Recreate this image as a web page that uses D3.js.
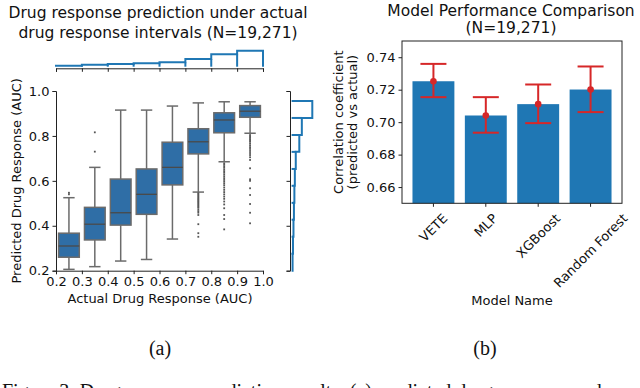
<!DOCTYPE html>
<html>
<head>
<meta charset="utf-8">
<script src="https://cdn.jsdelivr.net/npm/d3@7"></script>
<style>
  body { margin: 0; background: #fff; }
  svg { display: block; font-family: "DejaVu Sans", sans-serif; }
</style>
</head>
<body>
<svg id="chart" width="640" height="388"></svg>
<script>
// ---- panel (a): boxplots of predicted AUC per actual AUC interval ----
const binCenters = [0.25, 0.35, 0.45, 0.55, 0.65, 0.75, 0.85, 0.95];
const boxLow = [0.206, 0.218, 0.243, 0.25, 0.341, 0.55, 0.685, 0.812];
const boxQ1 = [0.26, 0.337, 0.403, 0.451, 0.582, 0.72, 0.814, 0.883];
const boxMed = [0.31, 0.407, 0.458, 0.54, 0.66, 0.774, 0.871, 0.91];
const boxQ3 = [0.367, 0.482, 0.608, 0.653, 0.772, 0.832, 0.903, 0.935];
const boxHigh = [0.525, 0.66, 0.915, 0.915, 0.933, 0.947, 0.952, 0.952];
const fliers = [
  [0.54, 0.547],
  [0.73, 0.816],
  [],
  [],
  [],
  [0.545, 0.54, 0.535, 0.53, 0.525, 0.52, 0.515, 0.51, 0.505, 0.5, 0.495, 0.49,
   0.485, 0.48, 0.472, 0.465, 0.458, 0.448, 0.407, 0.367, 0.351],
  [0.678, 0.672, 0.665, 0.658, 0.65, 0.643, 0.636, 0.628, 0.62, 0.612, 0.604,
   0.596, 0.588, 0.58, 0.57, 0.56, 0.55, 0.54, 0.53, 0.52, 0.508, 0.495, 0.478,
   0.448, 0.43, 0.384],
  [0.804, 0.798, 0.792, 0.786, 0.78, 0.774, 0.766, 0.758, 0.75, 0.742, 0.733,
   0.724, 0.715, 0.705, 0.693, 0.656, 0.607, 0.6, 0.567, 0.537, 0.497, 0.458, 0.411]
];

// marginal histogram of actual AUC (top)
const actualEdges = [0.2, 0.3, 0.4, 0.5, 0.6, 0.7, 0.8, 0.9, 1.0];
const actualCounts = [400, 780, 1050, 1320, 1700, 3000, 4800, 6221];
// marginal histogram of predicted AUC (right)
const predEdges = [0.2, 0.276, 0.351, 0.427, 0.502, 0.578, 0.653, 0.729, 0.804, 0.88, 0.955];
const predCounts = [341, 480, 650, 810, 970, 1130, 1450, 2680, 3560, 7200];

const aTicks = [0.2, 0.3, 0.4, 0.5, 0.6, 0.7, 0.8, 0.9, 1.0];
const aYTicks = [0.2, 0.4, 0.6, 0.8, 1.0];

// ---- panel (b): model comparison ----
const models = ["VETE", "MLP", "XGBoost", "Random Forest"];
const corr = [0.7252, 0.7041, 0.7111, 0.7201];
const corrLow = [0.7154, 0.6935, 0.6994, 0.7062];
const corrHigh = [0.7359, 0.7154, 0.7232, 0.7343];
const bYTicks = [0.66, 0.68, 0.70, 0.72, 0.74];

const blue = "#1f77b4";
const red = "#d62728";
const boxFill = "#2f6ea6";
const boxEdge = "#6b6b6b";
const axisColor = "#222";

const svg = d3.select("#chart");

function styleAxis(g) {
  g.selectAll("path.domain").attr("stroke", axisColor).attr("stroke-width", 1);
  g.selectAll(".tick line").attr("stroke", axisColor).attr("stroke-width", 1);
  g.selectAll(".tick text").attr("fill", "#111").attr("font-size", 13)
    .attr("font-family", "DejaVu Sans");
}

// ========== panel (a) ==========
const ax = { left: 56, right: 263, top: 91, bottom: 270.7 };
const x = d3.scaleLinear().domain([0.2, 1.0]).range([ax.left, ax.right]);
const y = d3.scaleLinear().domain([0.2, 1.0]).range([ax.bottom, ax.top]);

const ga = svg.append("g");

ga.append("text")
  .attr("x", 158).attr("text-anchor", "middle").attr("font-size", 15.5).attr("fill", "#111")
  .selectAll("tspan")
  .data(["Drug response prediction under actual", "drug response intervals (N=19,271)"])
  .join("tspan")
  .attr("x", 158)
  .attr("y", (d, i) => 18 + i * 20)
  .text((d) => d);

ga.append("g")
  .attr("transform", `translate(0,${ax.bottom})`)
  .call(d3.axisBottom(x).tickValues(aTicks).tickFormat(d3.format(".1f")).tickSizeOuter(0).tickSize(3.5).tickPadding(3))
  .call(styleAxis);

ga.append("g")
  .attr("transform", `translate(${ax.left},0)`)
  .call(d3.axisLeft(y).tickValues(aYTicks).tickFormat(d3.format(".1f")).tickSizeOuter(0).tickSize(3.5).tickPadding(3))
  .call(styleAxis);

ga.append("text")
  .attr("x", 160).attr("y", 303).attr("text-anchor", "middle")
  .attr("font-size", 13).attr("fill", "#111")
  .text("Actual Drug Response (AUC)");

ga.append("text")
  .attr("transform", `translate(21,${(ax.top + ax.bottom) / 2}) rotate(-90)`)
  .attr("text-anchor", "middle").attr("font-size", 13).attr("fill", "#111")
  .text("Predicted Drug Response (AUC)");

const boxW = (x(0.3) - x(0.2)) * 0.8;
const capW = boxW * 0.55;

const boxes = ga.append("g").selectAll("g")
  .data(binCenters.map((c, i) => ({
    c, lo: boxLow[i], q1: boxQ1[i], med: boxMed[i], q3: boxQ3[i], hi: boxHigh[i], fl: fliers[i]
  })))
  .join("g");

boxes.append("line")
  .attr("x1", (d) => x(d.c)).attr("x2", (d) => x(d.c))
  .attr("y1", (d) => y(d.lo)).attr("y2", (d) => y(d.q1))
  .attr("stroke", boxEdge).attr("stroke-width", 1.5);
boxes.append("line")
  .attr("x1", (d) => x(d.c)).attr("x2", (d) => x(d.c))
  .attr("y1", (d) => y(d.q3)).attr("y2", (d) => y(d.hi))
  .attr("stroke", boxEdge).attr("stroke-width", 1.5);
boxes.append("line")
  .attr("x1", (d) => x(d.c) - capW / 2).attr("x2", (d) => x(d.c) + capW / 2)
  .attr("y1", (d) => y(d.lo)).attr("y2", (d) => y(d.lo))
  .attr("stroke", boxEdge).attr("stroke-width", 1.5);
boxes.append("line")
  .attr("x1", (d) => x(d.c) - capW / 2).attr("x2", (d) => x(d.c) + capW / 2)
  .attr("y1", (d) => y(d.hi)).attr("y2", (d) => y(d.hi))
  .attr("stroke", boxEdge).attr("stroke-width", 1.5);
boxes.append("rect")
  .attr("x", (d) => x(d.c) - boxW / 2).attr("width", boxW)
  .attr("y", (d) => y(d.q3)).attr("height", (d) => y(d.q1) - y(d.q3))
  .attr("fill", boxFill).attr("stroke", boxEdge).attr("stroke-width", 1.5);
boxes.append("line")
  .attr("x1", (d) => x(d.c) - boxW / 2).attr("x2", (d) => x(d.c) + boxW / 2)
  .attr("y1", (d) => y(d.med)).attr("y2", (d) => y(d.med))
  .attr("stroke", "#4a4a4a").attr("stroke-width", 1.3);
boxes.selectAll("rect.flier")
  .data((d) => d.fl.map((v) => ({ c: d.c, v })))
  .join("rect")
  .attr("class", "flier")
  .attr("x", (d) => x(d.c) - 0.9).attr("y", (d) => y(d.v) - 0.9)
  .attr("width", 1.8).attr("height", 1.8)
  .attr("fill", "#555");

// top marginal histogram
const topBase = 68.3;
const yTop = d3.scaleLinear().domain([0, d3.max(actualCounts)]).range([topBase - 1.6, 50.7]);
const gTop = ga.append("g");
gTop.append("g")
  .attr("transform", `translate(0,${topBase})`)
  .call(d3.axisBottom(x).tickValues(aTicks).tickFormat("").tickSizeOuter(0).tickSize(3.5))
  .call(styleAxis);
const topPts = [[x(actualEdges[0]), yTop(0)]];
actualCounts.forEach((c, i) => {
  topPts.push([x(actualEdges[i]), yTop(c)]);
  topPts.push([x(actualEdges[i + 1]), yTop(c)]);
});
topPts.push([x(actualEdges[actualEdges.length - 1]), yTop(0)]);
gTop.append("path")
  .attr("d", d3.line()(topPts))
  .attr("fill", "none").attr("stroke", blue).attr("stroke-width", 2);
// inner bin dividers, as a step histogram outline with vertical bars
gTop.selectAll("line.div")
  .data(actualCounts.slice(1).map((c, i) => ({ e: actualEdges[i + 1], c: Math.min(c, actualCounts[i]) })))
  .join("line")
  .attr("x1", (d) => x(d.e)).attr("x2", (d) => x(d.e))
  .attr("y1", yTop(0)).attr("y2", (d) => yTop(d.c))
  .attr("stroke", blue).attr("stroke-width", 2);

// right marginal histogram
const rightBase = 290;
const xRight = d3.scaleLinear().domain([0, d3.max(predCounts)]).range([rightBase + 1.6, 312.3]);
const gRight = ga.append("g");
gRight.append("g")
  .attr("transform", `translate(${rightBase},0)`)
  .call(d3.axisLeft(y).tickValues(aYTicks).tickFormat("").tickSizeOuter(0).tickSize(3.5))
  .call(styleAxis);
const rightPts = [[xRight(0), y(predEdges[0])]];
predCounts.forEach((c, i) => {
  rightPts.push([xRight(c), y(predEdges[i])]);
  rightPts.push([xRight(c), y(predEdges[i + 1])]);
});
rightPts.push([xRight(0), y(predEdges[predEdges.length - 1])]);
gRight.append("path")
  .attr("d", d3.line()(rightPts))
  .attr("fill", "none").attr("stroke", blue).attr("stroke-width", 2);
gRight.selectAll("line.div")
  .data(predCounts.slice(1).map((c, i) => ({ e: predEdges[i + 1], c: Math.min(c, predCounts[i]) })))
  .join("line")
  .attr("y1", (d) => y(d.e)).attr("y2", (d) => y(d.e))
  .attr("x1", xRight(0)).attr("x2", (d) => xRight(d.c))
  .attr("stroke", blue).attr("stroke-width", 2);

// ========== panel (b) ==========
const bx = { left: 402, right: 622, top: 41, bottom: 203.3 };
const xb = d3.scaleBand().domain(models).range([bx.left, bx.right]).paddingInner(0.2).paddingOuter(0.2);
const yb = d3.scaleLinear().domain([0.65, 0.75]).range([bx.bottom, bx.top]);
const gb = svg.append("g");

gb.append("text")
  .attr("text-anchor", "middle").attr("font-size", 15.5).attr("fill", "#111")
  .selectAll("tspan")
  .data(["Model Performance Comparison", "(N=19,271)"])
  .join("tspan")
  .attr("x", 511)
  .attr("y", (d, i) => 16 + i * 17)
  .text((d) => d);

gb.append("g").selectAll("rect")
  .data(models.map((m, i) => ({ m, v: corr[i] })))
  .join("rect")
  .attr("x", (d) => xb(d.m)).attr("width", xb.bandwidth())
  .attr("y", (d) => yb(d.v)).attr("height", (d) => bx.bottom - yb(d.v))
  .attr("fill", blue);

const eb = gb.append("g").selectAll("g")
  .data(models.map((m, i) => ({ m, v: corr[i], lo: corrLow[i], hi: corrHigh[i] })))
  .join("g")
  .attr("stroke", red).attr("stroke-width", 2);
eb.append("line")
  .attr("x1", (d) => xb(d.m) + xb.bandwidth() / 2).attr("x2", (d) => xb(d.m) + xb.bandwidth() / 2)
  .attr("y1", (d) => yb(d.lo)).attr("y2", (d) => yb(d.hi));
eb.append("line")
  .attr("x1", (d) => xb(d.m) + xb.bandwidth() / 2 - 13).attr("x2", (d) => xb(d.m) + xb.bandwidth() / 2 + 13)
  .attr("y1", (d) => yb(d.lo)).attr("y2", (d) => yb(d.lo));
eb.append("line")
  .attr("x1", (d) => xb(d.m) + xb.bandwidth() / 2 - 13).attr("x2", (d) => xb(d.m) + xb.bandwidth() / 2 + 13)
  .attr("y1", (d) => yb(d.hi)).attr("y2", (d) => yb(d.hi));
eb.append("circle")
  .attr("cx", (d) => xb(d.m) + xb.bandwidth() / 2).attr("cy", (d) => yb(d.v))
  .attr("r", 3.3).attr("fill", red).attr("stroke", "none");

// frame
gb.append("rect")
  .attr("x", bx.left).attr("y", bx.top)
  .attr("width", bx.right - bx.left).attr("height", bx.bottom - bx.top)
  .attr("fill", "none").attr("stroke", axisColor).attr("stroke-width", 1);

gb.append("g")
  .attr("transform", `translate(${bx.left},0)`)
  .call(d3.axisLeft(yb).tickValues(bYTicks).tickFormat(d3.format(".2f")).tickSizeOuter(0).tickSize(3.5).tickPadding(3))
  .call(styleAxis)
  .call((g) => g.select("path.domain").remove());

const xAxisB = gb.append("g")
  .attr("transform", `translate(0,${bx.bottom})`)
  .call(d3.axisBottom(xb).tickSizeOuter(0).tickSize(3.5))
  .call(styleAxis)
  .call((g) => g.select("path.domain").remove());

// rotated tick labels, centred under the tick like matplotlib rotation=45
xAxisB.selectAll(".tick text").each(function () {
  const t = d3.select(this);
  const w = this.getComputedTextLength();
  const h = 13 * 1.15;
  const cy = 7.5 + (w + h) * Math.SQRT1_2 / 2;
  t.attr("y", null).attr("dy", null)
    .attr("text-anchor", "middle")
    .attr("dominant-baseline", "central")
    .attr("transform", `translate(0,${cy}) rotate(-45)`);
});

gb.append("text")
  .attr("x", 512).attr("y", 305).attr("text-anchor", "middle")
  .attr("font-size", 13).attr("fill", "#111")
  .text("Model Name");

gb.append("text")
  .attr("transform", `translate(0,${(bx.top + bx.bottom) / 2}) rotate(-90)`)
  .attr("text-anchor", "middle").attr("font-size", 13).attr("fill", "#111")
  .selectAll("tspan")
  .data(["Correlation coefficient", "(predicted vs actual)"])
  .join("tspan")
  .attr("x", 0)
  .attr("y", (d, i) => 343 + i * 14)
  .text((d) => d);

// ========== captions ==========
const cap = svg.append("g").attr("font-family", "Liberation Serif, serif").attr("fill", "#111");
cap.append("text").attr("x", 160).attr("y", 355).attr("text-anchor", "middle").attr("font-size", 20).text("(a)");
cap.append("text").attr("x", 485).attr("y", 355).attr("text-anchor", "middle").attr("font-size", 20).text("(b)");
cap.append("text").attr("x", 2).attr("y", 398).attr("font-size", 20)
  .text("Figure 3: Drug response prediction results: (a) predicted drug response and");
</script>
</body>
</html>
